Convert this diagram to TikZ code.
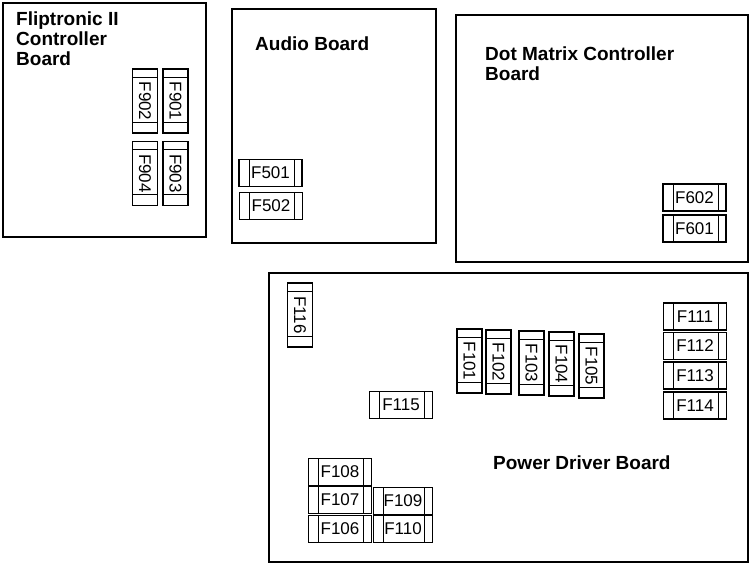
\documentclass[tikz,border=0pt]{standalone}
\usepackage{fontspec}
\setmainfont{Liberation Sans}
\tikzset{
  board/.style={draw, line width=1.3pt, rectangle, inner sep=0pt},
  boardtitle/.style={font=\fontsize{19}{20}\selectfont\bfseries, align=left, inner sep=0pt, anchor=north west},
  fuseh/.style={draw, line width=1.1pt, minimum width=63pt, minimum height=27pt, inner sep=0pt,
    font=\fontsize{17}{17}\selectfont,
    path picture={\draw[line width=.8pt]
      ([xshift=10pt]path picture bounding box.north west) -- ([xshift=10pt]path picture bounding box.south west)
      ([xshift=-8pt]path picture bounding box.north east) -- ([xshift=-8pt]path picture bounding box.south east);}},
  fusev/.style={draw, line width=1.1pt, minimum width=25pt, minimum height=64pt, inner sep=0pt,
    font=\fontsize{17}{17}\selectfont,
    path picture={\draw[line width=.8pt]
      ([yshift=-8pt]path picture bounding box.north west) -- ([yshift=-8pt]path picture bounding box.north east)
      ([yshift=11pt]path picture bounding box.south west) -- ([yshift=11pt]path picture bounding box.south east);}}
}
\begin{document}
\begin{tikzpicture}[x=1pt,y=-1pt]
  \useasboundingbox (0,0) rectangle (751,569);

  % boards
  \node[board, minimum width=203pt, minimum height=234pt] (flip) at (104.5,120) {};
  \node[board, minimum width=204pt, minimum height=234pt] (audio) at (334,126) {};
  \node[board, minimum width=292pt, minimum height=247pt] (dmd) at (602,138.5) {};
  \node[board, minimum width=479pt, minimum height=289pt] (power) at (508.5,417.5) {};

  \node[boardtitle] (fliptitle) at (16,12) {Fliptronic II\\Controller\\Board};
  \node[boardtitle] (audiotitle) at (255,37) {Audio Board};
  \node[boardtitle] (dmdtitle) at (485,47) {Dot Matrix Controller\\Board};
  \node[boardtitle, anchor=west] (powertitle) at (493,463) {Power Driver Board};

  % fuses
  \foreach \n/\x/\y in {902/145/101, 901/175.5/101, 904/145/173.5, 903/175.5/173.5,
                        116/300/315, 101/469.5/361, 102/498.5/362, 103/531.5/363,
                        104/561.5/364, 105/591.5/366}
    \node[fusev] (f\n) at (\x,\y) {\rotatebox{-90}{F\n}};

  \foreach \n/\x/\y in {501/270.5/173, 502/271/206, 602/694.5/197.5, 601/694.5/228.5,
                        115/401/405, 108/340/472, 107/340/500, 106/340/529,
                        111/695/316.5, 112/695/346, 113/695/375.5, 114/695/405.5}
    \node[fuseh] (f\n) at (\x,\y) {F\n};

  \foreach \n/\y in {109/501, 110/529}
    \node[fuseh, minimum width=59pt] (f\n) at (403,\y) {F\n};

\end{tikzpicture}
\end{document}
